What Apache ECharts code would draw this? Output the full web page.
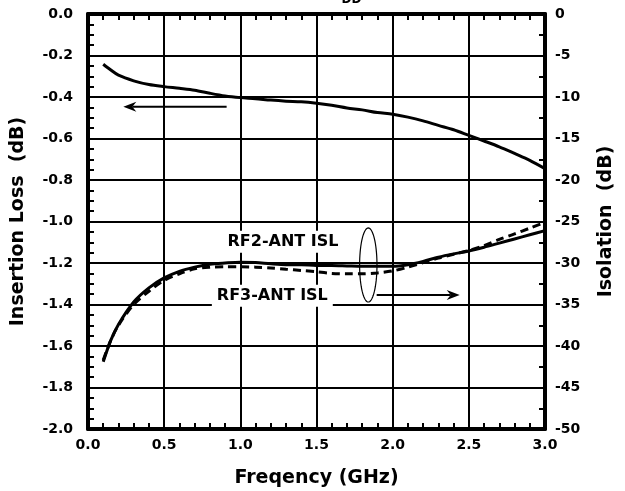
<!DOCTYPE html>
<html><head><meta charset="utf-8">
<script src="https://cdn.jsdelivr.net/npm/echarts@6/dist/echarts.min.js"></script>
<style>html,body{margin:0;padding:0;background:#fff}#c{width:625px;height:491px}</style>
</head><body><div id="c"></div>
<script>
// Frequency (GHz)
const freq = [0.1,0.15,0.2,0.3,0.4,0.5,0.6,0.7,0.8,0.9,1.0,1.1,1.2,1.3,1.4,1.5,1.6,1.7,1.8,1.9,2.0,2.1,2.2,2.3,2.4,2.5,2.6,2.7,2.8,2.9,3.0];
// Insertion loss (dB), left axis
const insertionLoss = [-0.242,-0.27,-0.295,-0.322,-0.34,-0.35,-0.358,-0.367,-0.382,-0.395,-0.403,-0.408,-0.415,-0.42,-0.423,-0.43,-0.44,-0.453,-0.462,-0.475,-0.483,-0.497,-0.515,-0.537,-0.558,-0.585,-0.612,-0.64,-0.672,-0.705,-0.745];
// RF2-ANT isolation (dB), right axis
const isoRF2 = [-41.9,-39.3,-37.4,-34.7,-33.0,-31.8,-31.0,-30.5,-30.15,-30.0,-29.9,-29.95,-30.1,-30.2,-30.2,-30.3,-30.3,-30.35,-30.4,-30.4,-30.4,-30.2,-29.8,-29.3,-28.9,-28.55,-28.1,-27.6,-27.1,-26.6,-26.1];
// RF3-ANT isolation (dB), right axis
const isoRF3 = [-41.7,-39.3,-37.5,-35.0,-33.4,-32.1,-31.3,-30.7,-30.5,-30.45,-30.45,-30.5,-30.6,-30.75,-30.9,-31.05,-31.25,-31.3,-31.3,-31.2,-30.95,-30.5,-29.95,-29.4,-28.95,-28.5,-27.9,-27.15,-26.5,-25.8,-25.1];

const xAxisName = 'Freqency (GHz)';
const leftAxisName = 'Insertion Loss  (dB)';
const rightAxisName = 'Isolation  (dB)';
const labelRF2 = 'RF2-ANT ISL';
const labelRF3 = 'RF3-ANT ISL';

const FONT = '"DejaVu Sans", "Liberation Sans", Arial, sans-serif';
const chart = echarts.init(document.getElementById('c'));

const pair = (ys) => freq.map((f, i) => [f, ys[i]]);
const lbl = (extra) => Object.assign({color:'#000', fontFamily:FONT, fontWeight:'bold', fontSize:14, showMinLabel:true, showMaxLabel:true}, extra);

chart.setOption({
  animation: false,
  backgroundColor: '#fff',
  grid: {left: 88, right: 80, top: 14, bottom: 62, containLabel: false, outerBoundsMode: 'none'},
  xAxis: [{
    type: 'value', min: 0, max: 3, interval: 0.5, position: 'bottom',
    name: xAxisName, nameLocation: 'middle', nameGap: 40,
    nameTextStyle: {color:'#000', fontFamily:FONT, fontWeight:'bold', fontSize:19},
    axisLine: {show:true, onZero:false, lineStyle:{color:'#000', width:4}},
    axisTick: {show:false, inside:true},
    minorTick: {show:true, splitNumber:5, length:6, lineStyle:{color:'#000', width:2}},
    axisLabel: lbl({margin: 9, formatter: v => v.toFixed(1)}),
    splitLine: {show:true, lineStyle:{color:'#000', width:2}}
  }, {
    type: 'value', min: 0, max: 3, interval: 0.5, position: 'top',
    axisLine: {show:true, onZero:false, lineStyle:{color:'#000', width:4}},
    axisTick: {show:false, inside:true},
    minorTick: {show:true, splitNumber:5, length:6, lineStyle:{color:'#000', width:2}},
    axisLabel: {show:false},
    splitLine: {show:false}
  }],
  yAxis: [{
    type: 'value', min: -2, max: 0, interval: 0.2, position: 'left',
    name: leftAxisName, nameLocation: 'middle', nameGap: 60, nameRotate: 90,
    nameTextStyle: {color:'#000', fontFamily:FONT, fontWeight:'bold', fontSize:19},
    axisLine: {show:true, onZero:false, lineStyle:{color:'#000', width:4}},
    axisTick: {show:false, inside:true},
    minorTick: {show:true, splitNumber:4, length:6, lineStyle:{color:'#000', width:2}},
    axisLabel: lbl({margin: 15, formatter: v => (Math.abs(v) < 1e-9 ? 0 : v).toFixed(1)}),
    splitLine: {show:true, lineStyle:{color:'#000', width:2}}
  }, {
    type: 'value', min: -50, max: 0, interval: 5, position: 'right',
    name: rightAxisName, nameLocation: 'middle', nameGap: 52, nameRotate: 90,
    nameTextStyle: {color:'#000', fontFamily:FONT, fontWeight:'bold', fontSize:19},
    axisLine: {show:true, onZero:false, lineStyle:{color:'#000', width:4}},
    axisTick: {show:false, inside:true},
    minorTick: {show:true, splitNumber:2, length:6, lineStyle:{color:'#000', width:2}},
    axisLabel: lbl({margin: 10, formatter: v => String(Math.round(v))}),
    splitLine: {show:false}
  }],
  series: [
    {type:'line', name:'Insertion Loss', xAxisIndex:0, yAxisIndex:0, data: pair(insertionLoss), showSymbol:false, symbol:'none', smooth:0.3, lineStyle:{color:'#000', width:3}, z:5},
    {type:'line', name:labelRF2, xAxisIndex:0, yAxisIndex:1, data: pair(isoRF2), showSymbol:false, symbol:'none', smooth:0.3, lineStyle:{color:'#000', width:3}, z:5},
    {type:'line', name:labelRF3, xAxisIndex:0, yAxisIndex:1, data: pair(isoRF3), showSymbol:false, symbol:'none', smooth:0.3, lineStyle:{color:'#000', width:3, type:[8,5]}, z:5}
  ]
});

// Annotation anchors in data coordinates
const leftArrow = {axis:0, from:[0.91,-0.447], to:[0.232,-0.447]};
const rightArrow = {axis:1, from:[1.895,-33.85], to:[2.44,-33.85]};
const ellipseAnn = {axis:1, center:[1.84,-30.24], rx:0.057, ry:4.46};
const textRF2 = {axis:1, at:[1.28,-27.43]};
const textRF3 = {axis:1, at:[1.21,-33.95]};

const px = (axis, p) => chart.convertToPixel({xAxisIndex:0, yAxisIndex:axis}, p);

function arrow(a) {
  const f = px(a.axis, a.from), t = px(a.axis, a.to);
  const dir = Math.sign(t[0] - f[0]);
  const L = 13, W = 5, B = 9;
  return [
    {type:'line', z:50, shape:{x1:f[0], y1:f[1], x2:t[0]-dir*B, y2:t[1]}, style:{stroke:'#000', lineWidth:2}},
    {type:'polygon', z:50, shape:{points:[[t[0],t[1]],[t[0]-dir*L,t[1]-W],[t[0]-dir*B,t[1]],[t[0]-dir*L,t[1]+W]]}, style:{fill:'#000'}}
  ];
}
function ellipse(e) {
  const c = px(e.axis, e.center);
  const r = px(e.axis, [e.center[0]+e.rx, e.center[1]+e.ry]);
  const rx = Math.abs(r[0]-c[0]), ry = Math.abs(r[1]-c[1]);
  const pts = [];
  for (let i = 0; i < 72; i++) { const a = i/72*Math.PI*2; pts.push([c[0]+rx*Math.cos(a), c[1]+ry*Math.sin(a)]); }
  return {type:'polygon', z:50, shape:{points:pts}, style:{fill:'none', stroke:'#000', lineWidth:1.2}};
}
function label(t, s) {
  const p = px(t.axis, t.at);
  return {type:'text', z:40, x:p[0], y:p[1], style:{text:s, fill:'#000', font:'bold 16px ' + FONT, align:'center', verticalAlign:'middle', backgroundColor:'#fff', padding:[3,5]}};
}
const topX = px(0, [1.73, 0])[0];
chart.setOption({graphic: [
  ...arrow(leftArrow), ...arrow(rightArrow), ellipse(ellipseAnn),
  label(textRF2, labelRF2), label(textRF3, labelRF3),
  {type:'text', z:40, x:topX, y:-6, style:{text:'DD', fill:'#000', font:'bold 12px ' + FONT, align:'center', verticalAlign:'top'}}
]});
</script></body></html>
